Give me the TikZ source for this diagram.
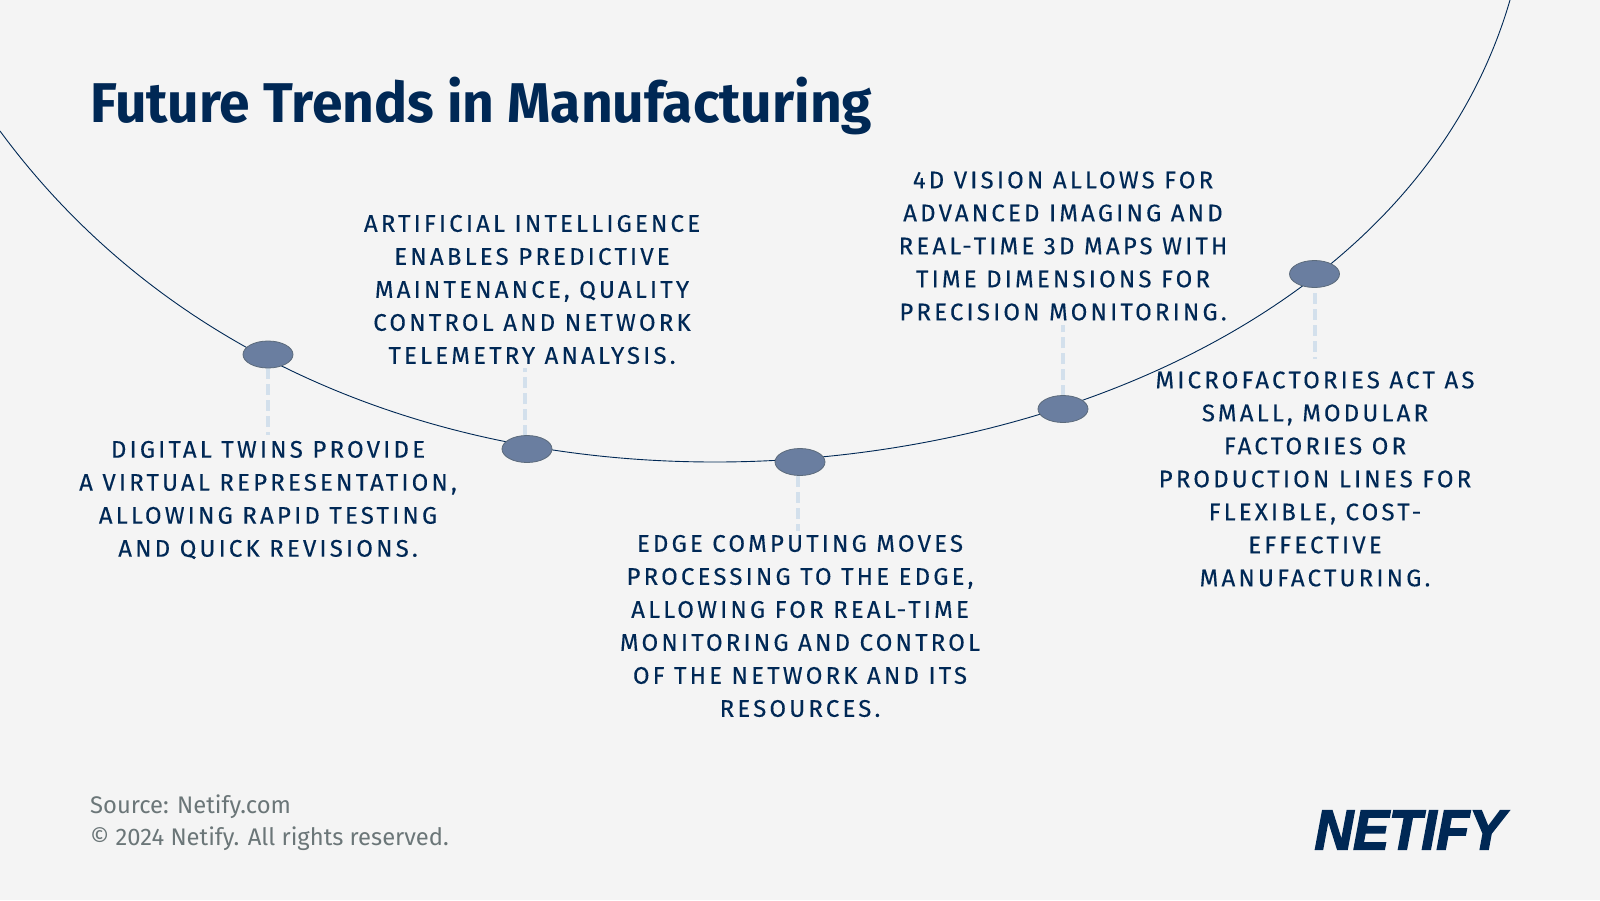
\documentclass[tikz,border=0pt]{standalone}
\usepackage{fontspec}
\setmainfont{Fira Sans}
\newfontfamily\capsfont[LetterSpace=13.3,FakeBold=0.2]{Fira Sans}
\newfontfamily\titlefont[FakeStretch=0.985]{Fira Sans}
\newfontfamily\footfont[FakeStretch=0.99]{Fira Sans}
\newfontfamily\logofont[FakeBold=3,FakeStretch=0.955]{Liberation Sans}
\usetikzlibrary{shapes.geometric}
\usetikzlibrary{positioning}
\definecolor{navy}{HTML}{002855}
\definecolor{dotblue}{HTML}{6A7EA0}
\definecolor{dotedge}{HTML}{5C6B7C}
\definecolor{dashblue}{HTML}{D3E0EC}
\definecolor{footgrey}{HTML}{6B7678}
\definecolor{paper}{HTML}{F4F4F4}
\tikzset{
  dot/.style={ellipse,draw=dotedge,fill=dotblue,line width=0.8pt,minimum width=50pt,minimum height=27pt,inner sep=0pt},
  stem/.style={dashblue,line width=4.5pt,dash pattern=on 11pt off 5pt},
  trend/.style={text=navy,align=center,inner sep=0pt,font=\capsfont\fontsize{24}{33}\selectfont},
  foot/.style={text=footgrey,anchor=west,inner sep=0pt,font=\footfont\fontsize{24}{33}\selectfont}
}
\begin{document}
\begin{tikzpicture}[x=1pt,y=-1pt]
     \fill[paper] (0,0) rectangle (1600,900);
     \useasboundingbox (0,0) rectangle (1600,900);
     % curve
     \coordinate (left) at (0,131);
     \coordinate (low) at (715,462);
     \coordinate (right) at (1510,0);
     \draw [navy,line width=0.9pt] (left) .. controls (165,355) and (430,462) .. (low) .. controls (1050,462) and (1420,310) .. (right);
     % dashed stems
     \coordinate (s1a) at (268,368); \coordinate (s1b) at (268,435);
     \coordinate (s2a) at (525,436); \coordinate (s2b) at (525,368);
     \coordinate (s3a) at (798,476); \coordinate (s3b) at (798,531);
     \coordinate (s4a) at (1063,396); \coordinate (s4b) at (1063,325);
     \coordinate (s5a) at (1315,293); \coordinate (s5b) at (1315,359);
     \draw[stem] (s1a) -- (s1b);
     \draw[stem] (s2a) -- (s2b);
     \draw[stem] (s3a) -- (s3b);
     \draw[stem] (s4a) -- (s4b);
     \draw[stem] (s5a) -- (s5b);
     % dots
     \node[dot] (twins) at (268,354.5) {};
     \node[dot] (ai) at (527,449) {};
     \node[dot] (edge) at (800,462) {};
     \node[dot] (vision) at (1063,409) {};
     \node[dot] (micro) at (1314.5,274) {};
     % texts
     \node[trend] (twinstext) at (268,500) {DIGITAL TWINS PROVIDE\\A VIRTUAL REPRESENTATION,\\ALLOWING RAPID TESTING\\AND QUICK REVISIONS.};
     \node[trend] (aitext) at (532,289.5) {ARTIFICIAL INTELLIGENCE\\ENABLES PREDICTIVE\\MAINTENANCE, QUALITY\\CONTROL AND NETWORK\\TELEMETRY ANALYSIS.};
     \node[trend] (edgetext) at (800,626) {EDGE COMPUTING MOVES\\PROCESSING TO THE EDGE,\\ALLOWING FOR REAL-TIME\\MONITORING AND CONTROL\\OF THE NETWORK AND ITS\\RESOURCES.};
     \node[trend] (visiontext) at (1063,246) {4D VISION ALLOWS FOR\\ADVANCED IMAGING AND\\REAL-TIME 3D MAPS WITH\\TIME DIMENSIONS FOR\\PRECISION MONITORING.};
     \node[trend] (microtext) at (1315,479) {MICROFACTORIES ACT AS\\SMALL, MODULAR\\FACTORIES OR\\PRODUCTION LINES FOR\\FLEXIBLE, COST-\\EFFECTIVE\\MANUFACTURING.};
     % title and footer
     \node[text=navy,anchor=west,inner sep=0pt,font=\titlefont\bfseries\fontsize{56}{60}\selectfont] (title) at (90,106) {Future Trends in Manufacturing};
     \node[foot] (source) at (90,807) {Source: Netify.com};
     \node[foot] (rights) at (90,839) {© 2024 Netify. All rights reserved.};
     \node[text=navy,anchor=east,inner sep=0pt,font=\logofont\bfseries\itshape\fontsize{56}{60}\selectfont] (logo) at (1505,830) {NETIFY};
     \end{tikzpicture}
\end{document}
